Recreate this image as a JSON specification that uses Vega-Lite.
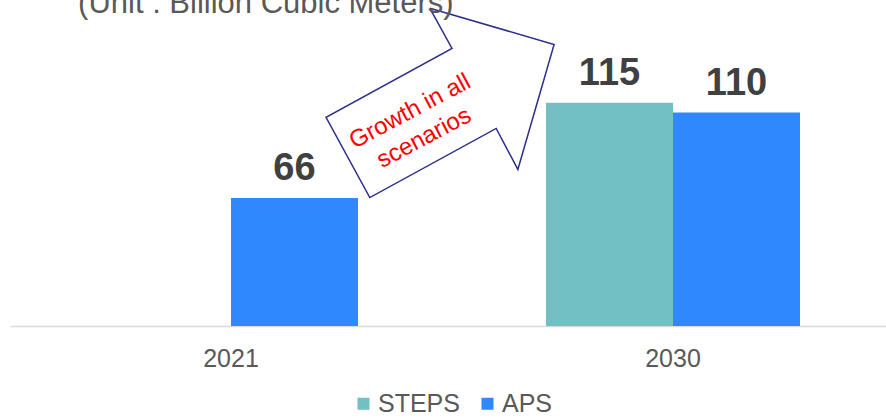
{
  "$schema": "https://vega.github.io/schema/vega-lite/v6.json",
  "width": 884,
  "height": 326,
  "padding": {"left": 10, "top": 0, "right": 0, "bottom": 92},
  "autosize": {"type": "none"},
  "config": {"view": {"stroke": null}, "font": "Liberation Sans"},
  "datasets": {
    "bars": [
      {"year": "2021", "scenario": "APS", "value": 66},
      {"year": "2030", "scenario": "STEPS", "value": 115},
      {"year": "2030", "scenario": "APS", "value": 110}
    ],
    "arrow": [
      {"order": 1, "x": 0.950, "y": 163.7},
      {"order": 2, "x": 1.000, "y": 143.0},
      {"order": 3, "x": 0.715, "y": 107.5},
      {"order": 4, "x": 0.814, "y": 66.2},
      {"order": 5, "x": 1.100, "y": 101.8},
      {"order": 6, "x": 1.149, "y": 80.7},
      {"order": 7, "x": 1.231, "y": 145.1},
      {"order": 8, "x": 0.950, "y": 163.7}
    ]
  },
  "layer": [
    {
      "data": {"name": "bars"},
      "encoding": {
        "x": {
          "field": "year", "type": "nominal",
          "scale": {"paddingInner": 0, "paddingOuter": 0},
          "axis": {"title": null, "labelAngle": 0, "labelFontSize": 25, "labelColor": "#595959", "ticks": false, "tickSize": 0, "labelPadding": 20, "domainColor": "#d9d9d9", "domainWidth": 1.5, "grid": false}
        },
        "xOffset": {
          "field": "scenario", "type": "nominal",
          "scale": {"domain": ["STEPS", "APS"], "paddingOuter": 0.74, "paddingInner": 0}
        },
        "y": {"field": "value", "type": "quantitative", "scale": {"domain": [0, 168], "nice": false, "zero": true}, "axis": null}
      },
      "layer": [
        {
          "mark": {"type": "bar"},
          "encoding": {
            "color": {
              "field": "scenario", "type": "nominal",
              "scale": {"domain": ["STEPS", "APS"], "range": ["#72bfc4", "#2f88fd"]},
              "legend": {"title": null, "orient": "none", "legendX": 341, "legendY": 391, "direction": "horizontal", "padding": 0, "symbolType": "square", "symbolSize": 144, "symbolStrokeWidth": 0, "labelFontSize": 25, "labelColor": "#595959", "columnPadding": 15, "labelOffset": 2}
            }
          }
        },
        {
          "mark": {"type": "text", "fontSize": 38, "fontWeight": "bold", "color": "#404040", "baseline": "alphabetic", "dy": -18},
          "encoding": {"text": {"field": "value", "type": "quantitative"}}
        }
      ]
    },
    {
      "data": {"name": "arrow"},
      "mark": {"type": "line", "stroke": "#2b2e8c", "strokeWidth": 1.5, "strokeJoin": "miter"},
      "encoding": {
        "x": {"field": "x", "type": "quantitative", "scale": {"domain": [0, 2], "nice": false, "zero": false}, "axis": null},
        "y": {"field": "y", "type": "quantitative", "scale": {"domain": [0, 168], "nice": false}, "axis": null},
        "order": {"field": "order", "type": "quantitative"}
      }
    },
    {
      "data": {"values": [{}]},
      "mark": {"type": "text", "text": ["Growth in all", "scenarios"], "fontSize": 24, "lineHeight": 30, "color": "#ff0000", "align": "center", "baseline": "middle", "angle": -28},
      "encoding": {
        "x": {"datum": 0.905, "type": "quantitative", "scale": {"domain": [0, 2], "nice": false, "zero": false}, "axis": null},
        "y": {"datum": 110.5, "type": "quantitative", "scale": {"domain": [0, 168], "nice": false}, "axis": null}
      }
    },
    {
      "data": {"values": [{}]},
      "mark": {"type": "text", "text": "(Unit : Billion Cubic Meters)", "fontSize": 31, "color": "#595959", "align": "left", "baseline": "alphabetic"},
      "encoding": {
        "x": {"datum": 0.154, "type": "quantitative", "scale": {"domain": [0, 2], "nice": false, "zero": false}, "axis": null},
        "y": {"datum": 161.3, "type": "quantitative", "scale": {"domain": [0, 168], "nice": false}, "axis": null}
      }
    }
  ],
  "resolve": {"scale": {"x": "independent"}}
}
